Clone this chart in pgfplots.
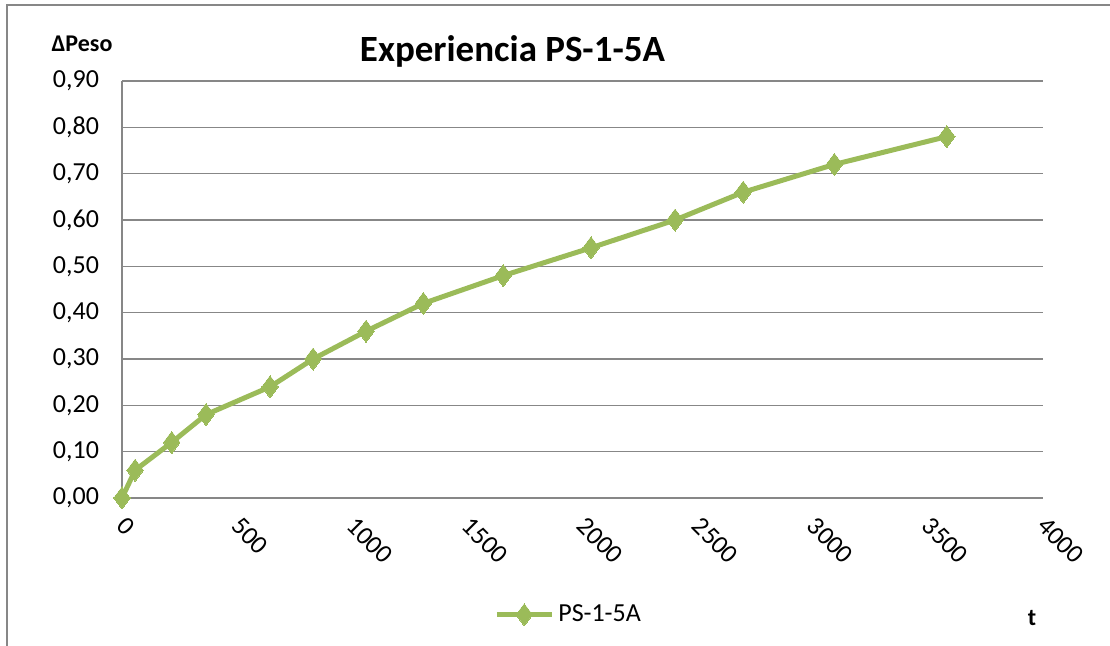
\documentclass[border=0pt]{standalone}
\usepackage{pgfplots}
\pgfplotsset{compat=1.18}
\usepackage{fontspec}
\setmainfont{Carlito}
\definecolor{olive}{HTML}{9BBB59}
\definecolor{gridgray}{HTML}{878787}
\begin{document}
\begin{tikzpicture}
\useasboundingbox (0,0) rectangle (555pt,-323pt);
\draw[gridgray, line width=0.8pt] (3.5pt,-400pt) -- (3.5pt,-2.5pt) -- (700pt,-2.5pt);
\begin{axis}[
  at={(61pt,-249pt)}, anchor=south west,
  width=460.5pt, height=208.5pt, scale only axis,
  xmin=0, xmax=4000, ymin=0, ymax=0.9,
  xtick={0,500,...,4000}, ytick={0,0.1,...,0.91},
  axis x line*=bottom, axis y line*=left,
  axis line style={gridgray, line width=0.8pt, -},
  major tick length=0pt,
  ymajorgrids, grid style={gridgray, line width=0.8pt},
  tick label style={font=\fontsize{13pt}{15pt}\selectfont, text=black},
  /pgf/number format/assume math mode=true,
  yticklabel style={/pgf/number format/.cd, fixed, fixed zerofill, precision=2, use comma, /tikz/.cd, anchor=east, xshift=-8pt},
  xticklabel style={/pgf/number format/1000 sep={}, xshift=2.5pt, yshift=-4pt, rotate=-45, anchor=north west},
  legend style={at={(0.486,-0.28)}, anchor=center, draw=none, fill=none, font=\fontsize{13pt}{15pt}\selectfont, inner sep=0pt},
  legend image code/.code={\draw[mark repeat=2,mark phase=2,#1] plot coordinates {(0pt,0pt)(13.75pt,0pt)(27.5pt,0pt)};},
  clip=false,
]
\addplot[olive, line width=2.5pt, mark=diamond*, mark size=5.5pt, mark options={fill=olive, draw=olive, line width=0pt}] coordinates {
(0,0) (57,0.06) (216,0.12) (365,0.18) (643,0.24) (830,0.30) (1060,0.36) (1309,0.42) (1656,0.48) (2037,0.54) (2402,0.60) (2698,0.66) (3094,0.72) (3582,0.78)
};
\addlegendentry{PS-1-5A}
\end{axis}
\node[anchor=base, font=\fontsize{18.5pt}{22pt}\selectfont\bfseries] at (256.25pt,-31pt) {Experiencia PS-1-5A};
\node[anchor=base, font=\fontsize{12pt}{14pt}\selectfont\bfseries] at (41pt,-26pt) {ΔPeso};
\node[anchor=base, font=\fontsize{12pt}{14pt}\selectfont\bfseries] at (516pt,-313pt) {t};
\end{tikzpicture}
\end{document}
